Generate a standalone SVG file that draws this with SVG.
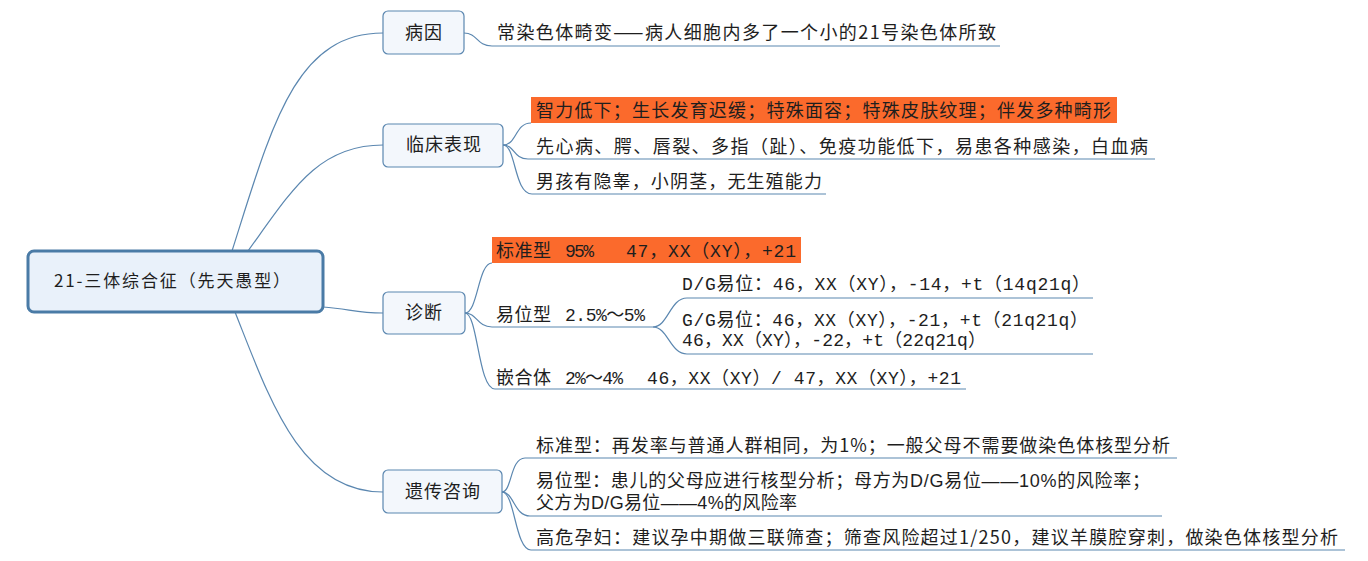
<svg xmlns="http://www.w3.org/2000/svg" width="1368" height="561" viewBox="0 0 1368 561">
<style>
.bg{fill:#ffffff}
.root{fill:#e9f1fa;stroke:#4a7ba6;stroke-width:3}
.br{fill:#f3f7fc;stroke:#5b87b0;stroke-width:1.2}
.hl{fill:#fb6a2c}
.c{fill:none;stroke:#5b87b0;stroke-width:1.2}
text{font-family:"Noto Sans CJK SC","Liberation Sans",sans-serif;font-size:18px;fill:#1e1e1e}
.m{font-family:"Liberation Mono","Noto Sans CJK SC",monospace}
.s{font-family:"Liberation Sans","Noto Sans CJK SC",sans-serif}
.rt{font-size:17px}
</style>
<rect class="bg" x="0" y="0" width="1368" height="561"/>
<g id="connectors">
<path class="c" d="M232,251 C272,125 295,33 383,33"/>
<path class="c" d="M248,251 C292,190 318,145 383,145"/>
<path class="c" d="M323,307 C350,309 356,313 383,313"/>
<path class="c" d="M235,312 C270,400 300,492 383,492"/>
<path class="c" d="M464,33 C478,33 476,46 492,46 L1000,46"/>
<path class="c" d="M503,145 C517,145 515,123 531,123"/>
<path class="c" d="M503,145 C515,145 513,159 528,159 L1155,159"/>
<path class="c" d="M503,145 C516,145 514,194 532,194 L826,194"/>
<path class="c" d="M465,313 C478,313 478,263 492,263"/>
<path class="c" d="M465,313 C477,313 477,327 492,327 L653,327"/>
<path class="c" d="M465,313 C478,313 478,389 495,389 L966,389"/>
<path class="c" d="M653,327 C668,327 670,298 687,298 L1093,298"/>
<path class="c" d="M653,327 C668,327 670,354 687,354 L1093,354"/>
<path class="c" d="M502,492 C512,492 510,458 525,458 L1177,458"/>
<path class="c" d="M502,492 C514,492 514,516 530,516 L1162,516"/>
<path class="c" d="M502,492 C515,492 515,550 531,550 L1345,550"/>
</g>
<g id="root">
<rect class="root" x="28" y="251" width="295" height="61" rx="6"/>
<text class="rt" x="54" y="287" textLength="236" lengthAdjust="spacing">21-三体综合征（先天愚型）</text>
</g>
<g id="n-bingyin">
<rect class="br" x="383" y="11" width="81" height="43" rx="5"/>
<text x="405" y="39" textLength="37" lengthAdjust="spacing">病因</text>
</g>
<g id="n-bingyin-1">
<text x="497" y="39" textLength="499" lengthAdjust="spacing">常染色体畸变——病人细胞内多了一个小的21号染色体所致</text>
</g>
<g id="n-linchuang">
<rect class="br" x="383" y="124" width="120" height="43" rx="5"/>
<text x="406" y="151" textLength="75" lengthAdjust="spacing">临床表现</text>
</g>
<g id="n-linchuang-1">
<rect class="hl" x="531" y="97" width="586" height="26"/>
<text x="536" y="117" textLength="575" lengthAdjust="spacing">智力低下；生长发育迟缓；特殊面容；特殊皮肤纹理；伴发多种畸形</text>
</g>
<g id="n-linchuang-2">
<text x="536" y="153" textLength="612" lengthAdjust="spacing">先心病、腭、唇裂、多指（趾）、免疫功能低下，易患各种感染，白血病</text>
</g>
<g id="n-linchuang-3">
<text x="536" y="188" textLength="286" lengthAdjust="spacing">男孩有隐睾，小阴茎，无生殖能力</text>
</g>
<g id="n-zhenduan">
<rect class="br" x="383" y="292" width="82" height="42" rx="5"/>
<text x="405" y="319" textLength="37" lengthAdjust="spacing">诊断</text>
</g>
<g id="n-zhenduan-1">
<rect class="hl" x="492" y="237" width="309" height="26"/>
<text x="496" y="257" textLength="55" lengthAdjust="spacing">标准型</text>
<text class="m" x="565" y="257" textLength="29" lengthAdjust="spacing">95%</text>
<text class="m" x="626" y="257" textLength="170" lengthAdjust="spacing">47，XX（XY），+21</text>
</g>
<g id="n-zhenduan-2">
<text x="496" y="321" textLength="55" lengthAdjust="spacing">易位型</text>
<text class="m" x="565" y="321" textLength="80" lengthAdjust="spacing">2.5%～5%</text>
</g>
<g id="n-zhenduan-2-1">
<text class="m" x="682" y="290" textLength="408" lengthAdjust="spacing">D/G易位：46，XX（XY），-14，+t（14q21q）</text>
</g>
<g id="n-zhenduan-2-2">
<text class="m"><tspan x="682" y="326" textLength="406" lengthAdjust="spacing">G/G易位：46，XX（XY），-21，+t（21q21q）</tspan><tspan x="682" y="346" textLength="304" lengthAdjust="spacing">46，XX（XY），-22，+t（22q21q）</tspan></text>
</g>
<g id="n-zhenduan-3">
<text x="496" y="384" textLength="55" lengthAdjust="spacing">嵌合体</text>
<text class="m" x="565" y="384" textLength="58" lengthAdjust="spacing">2%～4%</text>
<text class="m" x="647" y="384" textLength="314" lengthAdjust="spacing">46，XX（XY）/ 47，XX（XY），+21</text>
</g>
<g id="n-yichuan">
<rect class="br" x="383" y="470" width="119" height="43" rx="5"/>
<text x="405" y="498" textLength="75" lengthAdjust="spacing">遗传咨询</text>
</g>
<g id="n-yichuan-1">
<text x="536" y="452" textLength="634" lengthAdjust="spacing">标准型：再发率与普通人群相同，为1%；一般父母不需要做染色体核型分析</text>
</g>
<g id="n-yichuan-2">
<text class="s"><tspan x="536" y="487" textLength="614" lengthAdjust="spacing">易位型：患儿的父母应进行核型分析；母方为D/G易位——10%的风险率；</tspan><tspan x="536" y="509" textLength="261" lengthAdjust="spacing">父方为D/G易位——4%的风险率</tspan></text>
</g>
<g id="n-yichuan-3">
<text x="536" y="544" textLength="802" lengthAdjust="spacing">高危孕妇：建议孕中期做三联筛查；筛查风险超过1/250，建议羊膜腔穿刺，做染色体核型分析</text>
</g>
</svg>
